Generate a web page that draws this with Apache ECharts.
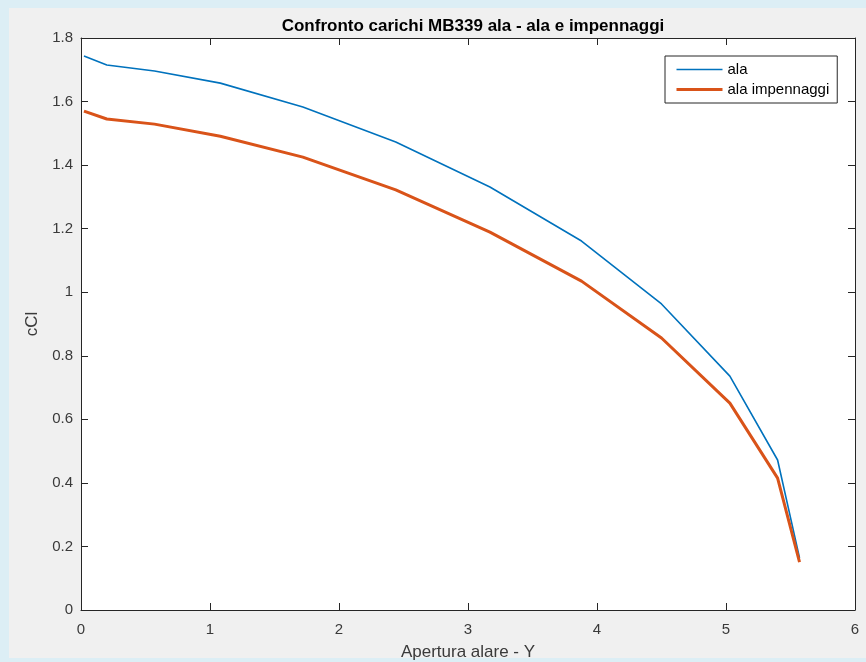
<!DOCTYPE html>
<html><head><meta charset="utf-8">
<script src="https://cdn.jsdelivr.net/npm/echarts@6/dist/echarts.min.js"></script>
<style>html,body{margin:0;padding:0;background:#dceef5;}#c{width:866px;height:662px;}</style>
</head><body><div id="c"></div>
<script>
const spanY = [0.023, 0.2, 0.57, 1.08, 1.72, 2.44, 3.17, 3.88, 4.5, 5.03, 5.4, 5.57];
const alaCl = [1.743, 1.715, 1.696, 1.658, 1.583, 1.473, 1.331, 1.161, 0.963, 0.736, 0.472, 0.164];
const alaImpCl = [1.570, 1.545, 1.529, 1.491, 1.425, 1.322, 1.189, 1.035, 0.856, 0.651, 0.415, 0.151];
const seriesNames = ['ala', 'ala impennaggi'];

const chart = echarts.init(document.getElementById('c'));
const axCol = '#262626';
const lblCol = '#3a3a3a';
const font = 'Liberation Sans, Arial, sans-serif';
function pairs(xs, ys){ return xs.map((x,i)=>[x, ys[i]]); }
const baseX = {type:'value', min:0, max:6, interval:1,
  axisLine:{show:true, onZero:false, lineStyle:{color:axCol, width:1}},
  axisTick:{show:true, inside:true, length:7, lineStyle:{color:axCol}},
  splitLine:{show:false}};
const baseY = {type:'value', min:0, max:1.8, interval:0.2,
  axisLine:{show:true, onZero:false, lineStyle:{color:axCol, width:1}},
  axisTick:{show:true, inside:true, length:7, lineStyle:{color:axCol}},
  splitLine:{show:false}};
chart.setOption({
  backgroundColor:'#dceef5',
  animation:false,
  graphic:[{type:'rect', left:9, top:8, shape:{width:857, height:650}, style:{fill:'#f0f0f0'}, z:-10},
           {type:'rect', left:81, top:38, shape:{width:774, height:572}, style:{fill:'#ffffff'}, z:-9}],
  title:{text:'Confronto carichi MB339 ala - ala e impennaggi', left:468, top:13, textAlign:'center',
    textStyle:{fontFamily:font, fontSize:17, fontWeight:'bold', color:'#000'}},
  grid:{left:81, top:38, right:11, bottom:52, containLabel:false, outerBoundsMode:'none'},
  legend:{data:[{name:seriesNames[0], lineStyle:{width:1.6}}, {name:seriesNames[1], lineStyle:{width:3}}],
    orient:'vertical', left:665, top:56,
    backgroundColor:'#fff', borderColor:'#262626', borderWidth:1, borderRadius:0,
    padding:[6,8,6,10], itemGap:5, itemWidth:46, itemHeight:15,
    itemStyle:{opacity:0},
    textStyle:{fontFamily:font, fontSize:15, color:'#000'}},
  xAxis:[Object.assign({}, baseX, {position:'bottom', name:'Apertura alare - Y', nameLocation:'middle', nameGap:34,
      nameTextStyle:{fontFamily:font, fontSize:17, color:lblCol},
      axisLabel:{show:true, margin:12, fontFamily:font, fontSize:15, color:lblCol}}),
    Object.assign({}, baseX, {position:'top', axisLabel:{show:false}})],
  yAxis:[Object.assign({}, baseY, {position:'left', name:'cCl', nameLocation:'middle', nameGap:37,
      nameTextStyle:{fontFamily:font, fontSize:17, color:lblCol},
      axisLabel:{show:true, margin:8, fontFamily:font, fontSize:15, color:lblCol}}),
    Object.assign({}, baseY, {position:'right', axisLabel:{show:false}})],
  series:[
    {name:seriesNames[0], type:'line', data:pairs(spanY, alaCl), symbol:'none', showSymbol:false,
      lineStyle:{color:'#0072BD', width:1.6}, itemStyle:{color:'#0072BD'}},
    {name:seriesNames[1], type:'line', data:pairs(spanY, alaImpCl), symbol:'none', showSymbol:false,
      lineStyle:{color:'#D95319', width:3}, itemStyle:{color:'#D95319'}}
  ]
});
</script></body></html>
